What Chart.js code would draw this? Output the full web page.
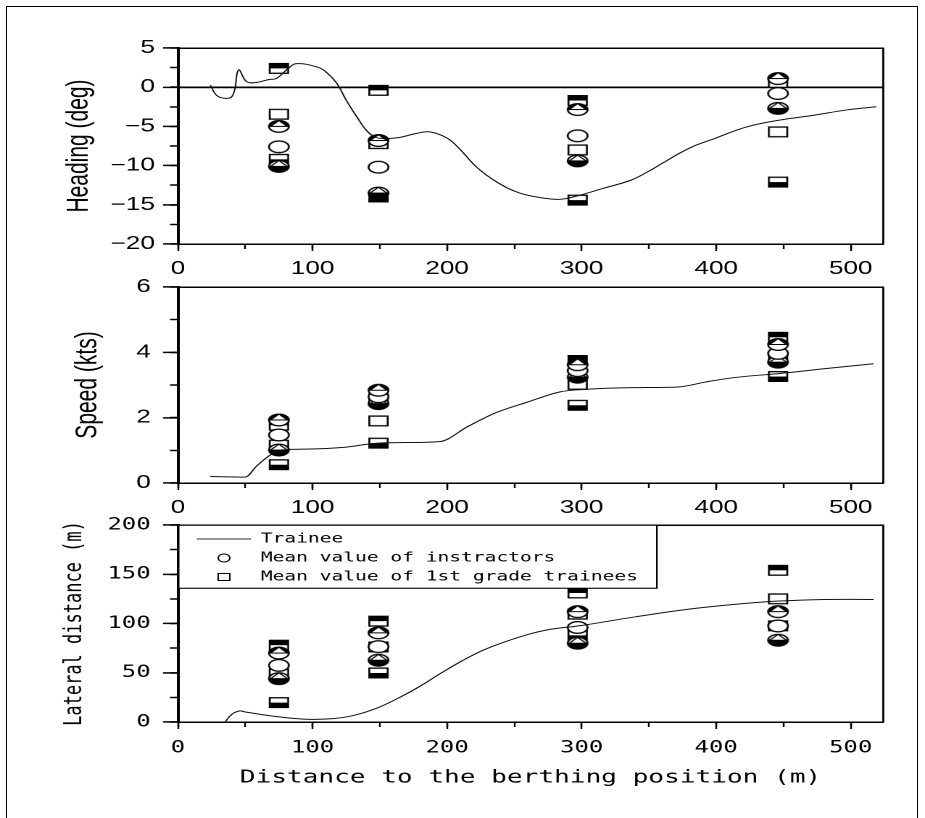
<!DOCTYPE html>
<html><head><meta charset="utf-8"><title>Chart</title>
<script src="https://cdn.jsdelivr.net/npm/chart.js@4/dist/chart.umd.min.js"></script>
<style>
html,body{margin:0;padding:0;background:#fff;}
#wrap{position:relative;width:925px;height:818px;overflow:hidden;background:#fff;}
#frame{position:absolute;left:6px;top:6px;width:912px;height:880px;border:1.5px solid #000;box-sizing:border-box;}
</style></head><body>
<div id="wrap">
<div id="frame"></div>
<canvas id="c1" width="638" height="818" style="position:absolute;left:0;top:0;width:925px;height:818px"></canvas>
<canvas id="c2" width="638" height="818" style="position:absolute;left:0;top:0;width:925px;height:818px"></canvas>
<canvas id="c3" width="638" height="818" style="position:absolute;left:0;top:0;width:925px;height:818px"></canvas>
</div>
<script>
// ---------------- data ----------------
const stations = [75, 149, 297, 446];

// Heading (deg)
const headingLineX = [24,30,40,45,51,58,68,73,82,88,103,110,118,125,133,140,147,155,165,177,187,200,210,222,237,254,274,284,296,316,336,348,360,373,385,398,422,447,472,497,519];
const headingLineY = [0.25,-1.2,-1.2,2.2,0.7,0.6,1.0,1.1,2.4,3.0,2.6,1.95,0.5,-1.65,-3.8,-5.5,-6.4,-6.55,-6.4,-5.9,-5.7,-6.5,-8.0,-10.2,-12.1,-13.5,-14.2,-14.3,-13.9,-12.9,-11.9,-10.9,-9.7,-8.4,-7.4,-6.6,-5.1,-4.2,-3.6,-2.9,-2.5];
const headingInstrUpper = [-5.0, -6.8, -2.85, 1.1];
const headingInstrMean  = [-7.6, -10.2, -6.2, -0.8];
const headingInstrLower = [-10.1, -13.5, -9.4, -2.7];
const headingTrainUpper = [2.4, -0.4, -1.7, 0.6];
const headingTrainMean  = [-3.45, -7.2, -8.0, -5.7];
const headingTrainLower = [-9.2, -14.0, -14.4, -12.1];

// Speed (kts)
const speedLineX = [24,50,58,66,76,99,123,149,175,195,215,235,260,284,300,340,372,392,412,449,481,517];
const speedLineY = [0.2,0.18,0.5,0.78,1.01,1.04,1.09,1.22,1.24,1.27,1.72,2.13,2.48,2.79,2.86,2.92,2.94,3.09,3.22,3.36,3.5,3.65];
const speedInstrUpper = [1.93, 2.84, 3.62, 4.24];
const speedInstrMean  = [1.47, 2.64, 3.44, 3.97];
const speedInstrLower = [1.01, 2.43, 3.24, 3.70];
const speedTrainUpper = [1.77, 2.58, 3.75, 4.46];
const speedTrainMean  = [1.16, 1.90, 3.02, 3.86];
const speedTrainLower = [0.56, 1.22, 2.38, 3.26];

// Lateral distance (m)
const lateralLineX = [35,40,45.5,50,66,82.5,98.6,115,131,147,163,179,195,211,227,243,260,276,300,340,380,421,445,481,517];
const lateralLineY = [0,7.8,11.2,10.2,6.8,4.1,2.7,3.4,6.8,13.6,23.7,35.6,49.2,62,73,81.4,88.8,93.9,98,106.8,114.6,120.3,122.7,124.4,124.4];
const lateralInstrUpper = [70, 90.5, 112, 112];
const lateralInstrMean  = [57.5, 76.5, 96, 97.5];
const lateralInstrLower = [44, 62.7, 80, 83];
const lateralTrainUpper = [78, 102.4, 131, 154];
const lateralTrainMean  = [49, 76.2, 109.5, 125];
const lateralTrainLower = [19.7, 49.8, 88, 97.6];

// tick / axis labels
const xTickStep = 100;
const headingTicks = {min: -20, max: 5, major: 5, minor: 2.5};
const speedTicks = {min: 0, max: 6, major: 2, minor: 1};
const lateralTicks = {min: 0, max: 200, major: 50, minor: 25};
const legendNames = ['Trainee', 'Mean value of instractors', 'Mean value of 1st grade trainees'];

// ---------------- styling / geometry ----------------
const LOGICAL_W = 638;
const SX = 925 / LOGICAL_W;      // horizontal stretch of the original picture
const L = v => v / SX;
const SANS = "'Liberation Sans', Arial, Helvetica, sans-serif";
const MONO = "'DejaVu Sans Mono', 'Liberation Mono', monospace";
const XMAX = 524;
const AXIS_W = L(178);
const PAD_R = LOGICAL_W - L(883);

function makeImg(w, h, draw) {
  const k = 4;
  const c = document.createElement('canvas');
  c.width = w * k; c.height = h * k;
  const g = c.getContext('2d'); g.scale(k, k); draw(g, w, h);
  const img = new Image(); img.width = w; img.height = h; img.src = c.toDataURL();
  return img;
}
function sqImg(mode, W, H, lw) {
  return makeImg(W + 2, H + 2, (g) => {
    const x = 1, y = 1;
    g.fillStyle = '#fff'; g.fillRect(x, y, W, H);
    g.fillStyle = '#000';
    if (mode === 'top') g.fillRect(x, y, W, H / 2);
    if (mode === 'bottom') g.fillRect(x, y + H / 2, W, H / 2);
    g.lineWidth = lw; g.strokeStyle = '#000';
    g.strokeRect(x + lw / 2, y + lw / 2, W - lw, H - lw);
  });
}
function circImg(mode, W, H, lw) {
  return makeImg(W + 2, H + 2, (g) => {
    const cx = (W + 2) / 2, cy = (H + 2) / 2, rx = W / 2 - lw / 2, ry = H / 2 - lw / 2;
    const path = () => { g.beginPath(); g.ellipse(cx, cy, rx, ry, 0, 0, Math.PI * 2); };
    path(); g.fillStyle = '#fff'; g.fill();
    if (mode === 'up' || mode === 'low') {
      g.save(); path(); g.clip();
      g.fillStyle = '#000';
      if (mode === 'up') g.fillRect(0, 0, W + 2, cy); else g.fillRect(0, cy, W + 2, H + 2);
      g.beginPath(); g.moveTo(cx, cy - ry); g.lineTo(cx + rx * 0.85, cy); g.lineTo(cx - rx * 0.85, cy); g.closePath();
      g.fillStyle = '#fff'; g.fill(); g.lineWidth = 1; g.strokeStyle = '#000'; g.stroke();
      g.restore();
      g.beginPath(); g.moveTo(cx - rx, cy); g.lineTo(cx + rx, cy); g.lineWidth = 1; g.strokeStyle = '#000'; g.stroke();
    }
    path(); g.lineWidth = lw; g.strokeStyle = '#000'; g.stroke();
  });
}

const IMG = {
  iUp: circImg('up', 15, 13, 1.3),
  iMean: circImg('mean', 15, 13, 1.3),
  iLow: circImg('low', 15, 13, 1.3),
  tUp: sqImg('top', 14, 11, 1.3),
  tMean: sqImg('none', 14, 11, 1.3),
  tLow: sqImg('bottom', 14, 11, 1.3),
  lgCirc: circImg('mean', 9, 9, 1),
  lgSq: sqImg('none', 9, 8, 1)
};

const minusFmt = v => (v < 0 ? '\u2212' + Math.abs(v) : String(v));

const LEG = {font: 13.5, pad: 5.5, lineW: L(251 - 197), dx: 7.6, dy: 1.75};

const legendBoxPlugin = {
  id: 'legendBox',
  afterLayout(chart) {
    const lg = chart.legend, a = chart.chartArea;
    if (lg && lg.options.display) {
      lg.left = a.left + LEG.dx; lg.top = a.top + LEG.dy;
      lg.right = a.right; lg.bottom = a.bottom;
      lg.width = lg.right - lg.left; lg.height = lg.bottom - lg.top;
    }
  },
  afterDatasetsDraw(chart) {
    const lg = chart.legend;
    if (!lg || !lg.options.display) return;
    const ctx = chart.ctx, a = chart.chartArea;
    ctx.save();
    ctx.font = LEG.font + 'px ' + MONO;
    const items = lg.legendItems || [];
    const tw = Math.max(...items.map(it => ctx.measureText(it.text).width));
    const x0 = a.left, y0 = a.top;
    const x1 = lg.left + LEG.pad + LEG.lineW + LEG.font / 2 + tw + L(19);
    const y1 = lg.top + LEG.pad + items.length * (LEG.font + LEG.pad) - 1;
    ctx.fillStyle = '#fff';
    ctx.fillRect(x0 + 1, y0 + 0.75, x1 - x0 - 1, y1 - y0 - 0.75);
    ctx.strokeStyle = '#000'; ctx.lineWidth = 1.1;
    ctx.strokeRect(x0, y0, x1 - x0, y1 - y0);
    ctx.restore();
    lg.draw();
  }
};

function makeChart(canvasId, p) {
  const pts = arr => stations.map((x, i) => ({x, y: arr[i]}));
  const marker = (label, arr, img) => ({label, data: pts(arr), pointStyle: img, pointRadius: 7, pointHoverRadius: 7, showLine: false, borderColor: '#000', backgroundColor: '#fff'});
  const lineDs = {label: 'Trainee', data: p.lineX.map((x, i) => ({x, y: p.lineY[i]})), showLine: true, borderColor: '#111', backgroundColor: '#111', borderWidth: 1, pointRadius: 0, pointHoverRadius: 0, fill: false};
  if (p.monotone) lineDs.cubicInterpolationMode = 'monotone'; else lineDs.tension = 0.4;
  const datasets = [
    lineDs,
    marker('Instructors upper', p.iU, IMG.iUp),
    marker('Mean value of instractors', p.iM, IMG.iMean),
    marker('Instructors lower', p.iL, IMG.iLow),
    marker('Trainees upper', p.tU, IMG.tUp),
    marker('Mean value of 1st grade trainees', p.tM, IMG.tMean),
    marker('Trainees lower', p.tL, IMG.tLow)
  ];
  const yt = p.yTicks;
  const scales = {
    x: {type: 'linear', position: 'bottom', weight: 1, min: 0, max: XMAX,
      afterFit: s => { s.height = p.xH; },
      ticks: {stepSize: xTickStep, includeBounds: false, autoSkip: false, maxRotation: 0, color: '#000', font: p.xTickFont, padding: p.xTickPad},
      grid: {drawOnChartArea: false, drawTicks: true, tickLength: 7, tickWidth: 1.2, tickColor: '#000', color: '#000'},
      border: {display: true, color: '#000', width: 1.5},
      title: p.xTitle ? {display: true, text: p.xTitle, color: '#000', font: p.xTitleFont, padding: {top: 0, bottom: p.xTitlePad}} : {display: false}
    },
    xMinor: {type: 'linear', axis: 'x', position: 'bottom', weight: 0, min: 0, max: XMAX,
      afterFit: s => { s.height = 0; },
      ticks: {display: false, stepSize: xTickStep / 2, includeBounds: false, autoSkip: false},
      grid: {drawOnChartArea: false, drawTicks: true, tickLength: 5, tickWidth: 1.2, tickColor: '#000', color: '#000'},
      border: {display: false}
    },
    xTop: {type: 'linear', axis: 'x', position: 'top', weight: 0, min: 0, max: XMAX,
      afterFit: s => { s.height = 0; },
      ticks: {display: false},
      grid: {drawOnChartArea: false, drawTicks: false, color: 'rgba(0,0,0,0)'},
      border: {display: true, color: '#000', width: 1.5}
    },
    y: {type: 'linear', position: 'left', weight: 1, min: yt.min, max: yt.max,
      afterFit: s => { s.width = AXIS_W; },
      ticks: {stepSize: yt.major, includeBounds: false, autoSkip: false, color: '#000', font: p.yTickFont, padding: p.yTickPad, callback: v => minusFmt(v)},
      grid: {drawOnChartArea: !!p.zeroLine, drawTicks: true, tickLength: L(15), tickWidth: 1.5, tickColor: '#000',
        color: c => (p.zeroLine && c.tick && c.tick.value === 0) ? '#000' : 'rgba(0,0,0,0)', lineWidth: 1.8},
      border: {display: true, color: '#000', width: 2},
      title: {display: true, text: p.yTitle, color: '#000', font: p.yTitleFont, padding: {top: p.yTitlePad, bottom: 0}}
    },
    yMinor: {type: 'linear', axis: 'y', position: 'left', weight: 0, min: yt.min, max: yt.max,
      afterFit: s => { s.width = 0; },
      ticks: {display: false, stepSize: yt.minor, includeBounds: false, autoSkip: false},
      grid: {drawOnChartArea: false, drawTicks: true, tickLength: L(8), tickWidth: 1.5, tickColor: '#000', color: '#000'},
      border: {display: false}
    },
    yRight: {type: 'linear', axis: 'y', position: 'right', weight: 0, min: yt.min, max: yt.max,
      afterFit: s => { s.width = 0; },
      ticks: {display: false},
      grid: {drawOnChartArea: false, drawTicks: false, color: 'rgba(0,0,0,0)'},
      border: {display: true, color: '#000', width: 1.4}
    }
  };
  const legend = p.legend ? {
    display: true, position: 'chartArea', align: 'start',
    labels: {
      usePointStyle: true, pointStyleWidth: LEG.lineW, padding: LEG.pad, textAlign: 'left', color: '#000',
      font: {family: MONO, size: LEG.font},
      generateLabels: (chart) => {
        const items = Chart.defaults.plugins.legend.labels.generateLabels(chart);
        return items.filter(it => legendNames.includes(it.text)).map(it => {
          if (it.text === legendNames[0]) { it.pointStyle = 'line'; it.strokeStyle = '#555'; it.lineWidth = 1.2; }
          else if (it.text === legendNames[1]) it.pointStyle = IMG.lgCirc;
          else it.pointStyle = IMG.lgSq;
          return it;
        });
      }
    }
  } : {display: false};

  return new Chart(document.getElementById(canvasId), {
    type: 'scatter',
    data: {datasets},
    options: {
      responsive: false, animation: false, devicePixelRatio: 2, events: [],
      layout: {autoPadding: false, padding: {left: 0, right: PAD_R, top: p.areaTop, bottom: 818 - p.areaBottom - p.xH}},
      scales,
      plugins: {legend, tooltip: {enabled: false}, title: {display: false}}
    },
    plugins: p.legend ? [legendBoxPlugin] : []
  });
}

async function main() {
  await Promise.all(Object.values(IMG).map(i => (i.decode ? i.decode().catch(() => {}) : Promise.resolve())));
  const sansTick = {family: SANS, size: 18};
  makeChart('c1', {
    lineX: headingLineX, lineY: headingLineY,
    iU: headingInstrUpper, iM: headingInstrMean, iL: headingInstrLower,
    tU: headingTrainUpper, tM: headingTrainMean, tL: headingTrainLower,
    yTicks: headingTicks, zeroLine: true,
    yTitle: 'Heading (deg)', yTitleFont: {family: SANS, size: 21}, yTitlePad: L(79) - 12.6,
    yTickFont: sansTick, yTickPad: 5.6,
    xTickFont: sansTick, xTickPad: 7.2, xH: 40,
    areaTop: 48, areaBottom: 244
  });
  makeChart('c2', {
    lineX: speedLineX, lineY: speedLineY, monotone: true,
    iU: speedInstrUpper, iM: speedInstrMean, iL: speedInstrLower,
    tU: speedTrainUpper, tM: speedTrainMean, tL: speedTrainLower,
    yTicks: speedTicks,
    yTitle: 'Speed (kts)', yTitleFont: {family: SANS, size: 21}, yTitlePad: L(88) - 12.6,
    yTickFont: sansTick, yTickPad: 8.4,
    xTickFont: sansTick, xTickPad: 7.2, xH: 40,
    areaTop: 287, areaBottom: 483
  });
  makeChart('c3', {
    lineX: lateralLineX, lineY: lateralLineY,
    iU: lateralInstrUpper, iM: lateralInstrMean, iL: lateralInstrLower,
    tU: lateralTrainUpper, tM: lateralTrainMean, tL: lateralTrainLower,
    yTicks: lateralTicks,
    yTitle: 'Lateral distance (m)', yTitleFont: {family: MONO, size: 17}, yTitlePad: L(75) - 10.2,
    yTickFont: {family: MONO, size: 16.5}, yTickPad: 8.5,
    xTickFont: {family: MONO, size: 16.5}, xTickPad: 9.2, xH: 70,
    xTitle: 'Distance to the berthing position (m)', xTitleFont: {family: MONO, size: 18}, xTitlePad: 3.2,
    areaTop: 525, areaBottom: 722, legend: true
  });
}
main();
</script>
</body></html>
